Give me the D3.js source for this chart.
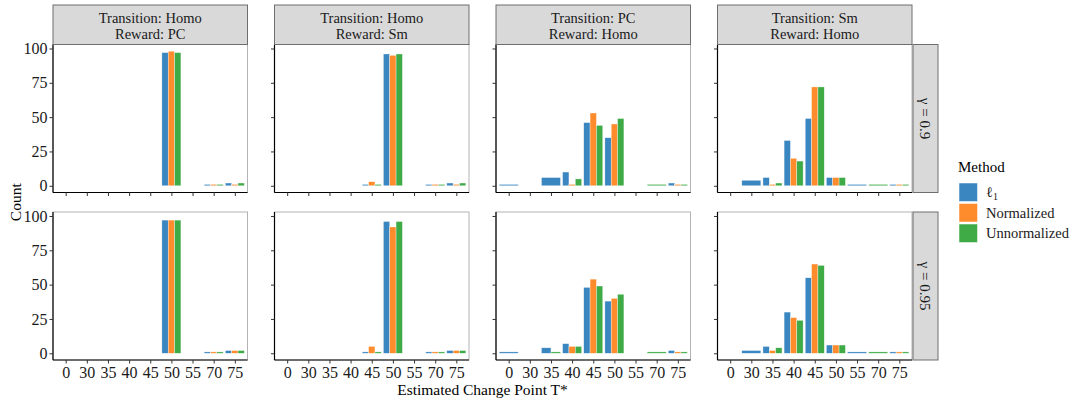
<!DOCTYPE html>
<html>
<head>
<meta charset="utf-8">
<script src="https://cdn.jsdelivr.net/npm/d3@7"></script>
<style>
  body { margin: 0; background: #fff; }
  text { font-family: "Liberation Serif", "DejaVu Serif", serif; }
</style>
</head>
<body>
<div id="chart"></div>
<script>
// DATA
const categories = ["0", "30", "35", "40", "45", "50", "55", "70", "75"];
const methods = ["l1", "Normalized", "Unnormalized"];
const colLabels = [
  ["Transition: Homo", "Reward: PC"],
  ["Transition: Homo", "Reward: Sm"],
  ["Transition: PC", "Reward: Homo"],
  ["Transition: Sm", "Reward: Homo"]
];
const rowLabels = ["\u03b3 = 0.9", "\u03b3 = 0.95"];
const yTicks = [0, 25, 50, 75, 100];

// counts per method (l1, Normalized, Unnormalized), one value per category
const homoPC_g09 = [
  [0, 0, 0, 0, 0, 97, 0, 1, 2],
  [0, 0, 0, 0, 0, 98, 0, 1, 1],
  [0, 0, 0, 0, 0, 97, 0, 1, 2]
];
const homoPC_g095 = [
  [0, 0, 0, 0, 0, 97, 0, 1, 2],
  [0, 0, 0, 0, 0, 97, 0, 1, 2],
  [0, 0, 0, 0, 0, 97, 0, 1, 2]
];
const homoSm_g09 = [
  [0, 0, 0, 0, 1, 96, 0, 1, 2],
  [0, 0, 0, 0, 3, 95, 0, 1, 1],
  [0, 0, 0, 0, 1, 96, 0, 1, 2]
];
const homoSm_g095 = [
  [0, 0, 0, 0, 1, 96, 0, 1, 2],
  [0, 0, 0, 0, 5, 92, 0, 1, 2],
  [0, 0, 0, 0, 1, 96, 0, 1, 2]
];
const pcHomo_g09 = [
  [1, 0, 6, 10, 46, 35, 0, 0, 2],
  [0, 0, 0, 1, 53, 45, 0, 0, 1],
  [0, 0, 0, 5, 44, 49, 0, 1, 1]
];
const pcHomo_g095 = [
  [1, 0, 4, 7, 48, 38, 0, 0, 2],
  [0, 0, 0, 5, 54, 40, 0, 0, 1],
  [0, 0, 1, 5, 49, 43, 0, 1, 1]
];
const smHomo_g09 = [
  [0, 4, 6, 33, 49, 6, 1, 0, 1],
  [0, 0, 1, 20, 72, 6, 0, 0, 1],
  [0, 0, 2, 18, 72, 6, 0, 1, 1]
];
const smHomo_g095 = [
  [0, 2, 5, 30, 55, 6, 1, 0, 1],
  [0, 0, 2, 26, 65, 6, 0, 0, 1],
  [0, 0, 4, 24, 64, 6, 0, 1, 1]
];

const panels = [
  [homoPC_g09, homoSm_g09, pcHomo_g09, smHomo_g09],
  [homoPC_g095, homoSm_g095, pcHomo_g095, smHomo_g095]
];

// LAYOUT
const width = 1071, height = 399;
const panelW = 194.5, panelH = 148;
const panelLeft0 = 53, panelStep = 221.5;
const rowTops = [44.5, 212];
const stripTop = 5;
const serif = "'Liberation Serif', 'DejaVu Serif', serif";
const colors = d3.scaleOrdinal().domain(methods).range(["#3a86c0", "#fe8b2c", "#3fab47"]);

const svg = d3.select("#chart").append("svg")
  .attr("width", width)
  .attr("height", height)
  .style("font-family", serif);

// scales
const x = d3.scalePoint()
  .domain(categories)
  .range([0, panelW])
  .padding(0.6);
const step = x.step();
const groupW = step * 0.9;

const yMax = 98;
const y = d3.scaleLinear()
  .domain([-0.05 * yMax, yMax * 1.05])
  .range([panelH, 0]);

panels.forEach((row, ri) => {
  row.forEach((counts, ci) => {
    const g = svg.append("g")
      .attr("transform", `translate(${panelLeft0 + ci * panelStep}, ${rowTops[ri]})`);

    // border top/right in grey
    g.append("rect")
      .attr("x", 0).attr("y", 0)
      .attr("width", panelW).attr("height", panelH)
      .attr("fill", "none")
      .attr("stroke", "#b3b3b3")
      .attr("stroke-width", 1);

    // bars, dodged among methods present at each category
    const bars = [];
    categories.forEach((c, k) => {
      const present = methods
        .map((m, mi) => ({ method: m, count: counts[mi][k] }))
        .filter(d => d.count > 0);
      const w = groupW / present.length;
      present.forEach((d, j) => {
        bars.push({ cat: c, method: d.method, count: d.count, x0: x(c) - groupW / 2 + j * w, w: w });
      });
    });

    g.selectAll("rect.bar")
      .data(bars)
      .enter()
      .append("rect")
      .attr("class", "bar")
      .attr("x", d => d.x0)
      .attr("y", d => y(d.count))
      .attr("width", d => d.w)
      .attr("height", d => y(0) - y(d.count))
      .attr("fill", d => colors(d.method))
      .attr("stroke", "#ffffff")
      .attr("stroke-opacity", 0.7)
      .attr("stroke-width", 0.5);

    // axes
    const xAxis = g.append("g")
      .attr("transform", `translate(0, ${panelH})`)
      .call(d3.axisBottom(x).tickSize(3.5).tickPadding(3).tickFormat(ri === 1 ? d => d : ""));
    xAxis.attr("font-family", serif);
    xAxis.select(".domain").attr("stroke", "#000").attr("stroke-width", 1.2)
      .attr("d", `M0,0H${panelW}`);
    xAxis.selectAll(".tick line").attr("stroke", "#333");
    xAxis.selectAll("text")
      .style("font-size", "16px")
      .style("font-family", serif)
      .attr("fill", "#1a1a1a");

    const yAxis = g.append("g")
      .call(d3.axisLeft(y).tickValues(yTicks).tickSize(3.5).tickPadding(2).tickFormat(ci === 0 ? d => d : ""));
    yAxis.attr("font-family", serif);
    yAxis.select(".domain").attr("stroke", "#000").attr("stroke-width", 1.2)
      .attr("d", `M0,${panelH}V0`);
    yAxis.selectAll(".tick line").attr("stroke", "#333");
    yAxis.selectAll("text")
      .style("font-size", "16px")
      .style("font-family", serif)
      .attr("fill", "#1a1a1a");

    // top strips
    if (ri === 0) {
      g.append("rect")
        .attr("x", 0).attr("y", stripTop - rowTops[0])
        .attr("width", panelW).attr("height", rowTops[0] - stripTop)
        .attr("fill", "#d9d9d9")
        .attr("stroke", "#6e6e6e")
        .attr("stroke-width", 1);
      g.append("text")
        .attr("x", panelW / 2).attr("y", 23 - rowTops[0])
        .attr("text-anchor", "middle")
        .style("font-size", "14.5px")
        .attr("fill", "#1a1a1a")
        .text(colLabels[ci][0]);
      g.append("text")
        .attr("x", panelW / 2).attr("y", 38.5 - rowTops[0])
        .attr("text-anchor", "middle")
        .style("font-size", "14.5px")
        .attr("fill", "#1a1a1a")
        .text(colLabels[ci][1]);
    }

    // right strips
    if (ci === 3) {
      g.append("rect")
        .attr("x", panelW + 1).attr("y", 0)
        .attr("width", 25).attr("height", panelH)
        .attr("fill", "#d9d9d9")
        .attr("stroke", "#6e6e6e")
        .attr("stroke-width", 1);
      g.append("text")
        .attr("transform", `translate(${panelW + 13.5}, ${panelH / 2}) rotate(90)`)
        .attr("text-anchor", "middle")
        .attr("dy", "0.35em")
        .style("font-size", "15px")
        .attr("fill", "#1a1a1a")
        .text(rowLabels[ri]);
    }
  });
});

// axis titles
const plotLeft = panelLeft0, plotRight = panelLeft0 + 3 * panelStep + panelW;
svg.append("text")
  .attr("x", (plotLeft + plotRight) / 2)
  .attr("y", 395)
  .attr("text-anchor", "middle")
  .style("font-size", "15.5px")
  .text("Estimated Change Point T*");

svg.append("text")
  .attr("transform", `translate(21, ${(rowTops[0] + rowTops[1] + panelH) / 2}) rotate(-90)`)
  .attr("text-anchor", "middle")
  .style("font-size", "15.5px")
  .text("Count");

// legend
const legend = svg.append("g").attr("transform", "translate(958, 0)");
legend.append("text")
  .attr("x", 0).attr("y", 172)
  .style("font-size", "15px")
  .text("Method");

const keyY = [183, 203.5, 224];
methods.forEach((m, i) => {
  legend.append("rect")
    .attr("x", 1).attr("y", keyY[i])
    .attr("width", 18.5).attr("height", 18.5)
    .attr("fill", colors(m))
    .attr("stroke", "#fff")
    .attr("stroke-width", 0.5);
  const t = legend.append("text")
    .attr("x", 28).attr("y", keyY[i] + 14)
    .style("font-size", "14.5px")
    .attr("fill", "#1a1a1a");
  if (m === "l1") {
    t.append("tspan").text("\u2113");
    t.append("tspan").attr("dy", 3).style("font-size", "10px").text("1");
  } else {
    t.text(m);
  }
});
</script>
</body>
</html>
